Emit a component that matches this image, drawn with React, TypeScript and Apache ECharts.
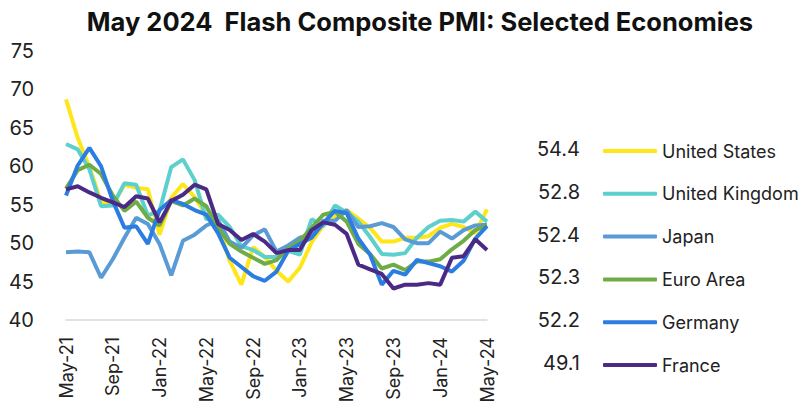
import React, { useEffect, useRef } from "react";
import * as echarts from "echarts";

const months = ["Jan", "Feb", "Mar", "Apr", "May", "Jun", "Jul", "Aug", "Sep", "Oct", "Nov", "Dec"];
const categories: string[] = [];
for (let y = 21; y <= 24; y++) {
  for (let m = 0; m < 12; m++) {
    if ((y === 21 && m < 4) || (y === 24 && m > 4)) continue;
    categories.push(`${months[m]}-${y}`);
  }
}

const seriesNames = ["United States", "United Kingdom", "Japan", "Euro Area", "Germany", "France"];
const seriesColors = ["#FFE619", "#5DD0CD", "#5B9BD5", "#6FAC46", "#2B7DE1", "#4B2A86"];

const unitedStates = [68.7, 63.7, 59.9, 55.4, 55.0, 57.6, 57.2, 57.0, 51.1, 55.9, 57.7, 56.0, 53.6, 52.3, 47.7, 44.6, 49.5, 48.2, 46.4, 45.0, 46.8, 50.1, 52.3, 53.4, 54.3, 53.2, 52.0, 50.2, 50.2, 50.7, 50.7, 50.9, 52.0, 52.5, 52.1, 51.3, 54.4];
const unitedKingdom = [62.9, 62.2, 59.6, 54.8, 54.9, 57.8, 57.6, 53.6, 54.2, 59.9, 60.9, 58.2, 53.1, 53.7, 52.1, 49.6, 49.1, 48.2, 48.2, 49.0, 48.5, 53.1, 52.2, 54.9, 54.0, 52.8, 50.8, 48.6, 48.5, 48.7, 50.7, 52.1, 52.9, 53.0, 52.8, 54.1, 52.8];
const japan = [48.8, 48.9, 48.8, 45.5, 47.9, 50.7, 53.3, 52.5, 49.9, 45.8, 50.3, 51.1, 52.3, 53.0, 50.2, 49.4, 51.0, 51.8, 48.9, 49.7, 50.7, 51.1, 52.9, 52.9, 54.3, 52.1, 52.2, 52.6, 52.1, 50.5, 50.0, 50.0, 51.5, 50.6, 51.7, 52.3, 52.4];
const euroArea = [57.1, 59.5, 60.2, 59.0, 56.2, 54.2, 55.4, 53.3, 52.3, 55.5, 54.9, 55.8, 54.8, 52.0, 49.9, 48.9, 48.1, 47.3, 47.8, 49.3, 50.3, 52.0, 53.7, 54.1, 52.8, 49.9, 48.6, 46.7, 47.2, 46.5, 47.6, 47.6, 47.9, 49.2, 50.3, 51.7, 52.3];
const germany = [56.2, 60.1, 62.4, 60.0, 55.5, 52.0, 52.2, 49.9, 54.3, 55.6, 55.1, 54.3, 53.7, 51.3, 48.1, 46.9, 45.7, 45.1, 46.3, 49.0, 49.9, 50.7, 52.6, 54.2, 53.9, 50.6, 48.5, 44.6, 46.4, 45.9, 47.8, 47.4, 47.0, 46.3, 47.7, 50.6, 52.2];
const france = [57.0, 57.4, 56.6, 55.9, 55.3, 54.7, 56.1, 55.8, 52.7, 55.5, 56.3, 57.6, 57.0, 52.5, 51.7, 50.4, 51.2, 50.2, 48.7, 49.1, 49.1, 51.7, 52.7, 52.4, 51.2, 47.2, 46.6, 46.0, 44.1, 44.6, 44.6, 44.8, 44.6, 48.1, 48.3, 50.5, 49.1];

const seriesData = [unitedStates, unitedKingdom, japan, euroArea, germany, france];

const yTicks = { min: 40, max: 75, interval: 5 };
const title = "May 2024  Flash Composite PMI: Selected Economies";

export default function App() {
  const ref = useRef<HTMLDivElement>(null);
  useEffect(() => {
    document.body.style.margin = "0";
    if (!ref.current) return;
    const chart = echarts.init(ref.current, undefined, { renderer: "svg" });
    const font = "Inter, 'Noto Sans', sans-serif";
    const rowTop = 151;
    const rowGap = 42.8;
    const rowH = 22;
    chart.setOption({
      animation: false,
      textStyle: { fontFamily: font },
      title: {
        text: title,
        left: 415,
        textAlign: "center",
        top: 3,
        textStyle: { fontSize: 25.5, fontWeight: "bold", color: "#111", fontFamily: font },
      },
      grid: { left: 66, right: 318, top: 51, bottom: 89, containLabel: false },
      xAxis: {
        type: "category",
        data: categories,
        boundaryGap: false,
        axisLine: { show: true, lineStyle: { color: "#d9d9d9", width: 1.5 } },
        axisTick: { show: false },
        axisLabel: {
          interval: 3,
          rotate: 90,
          margin: 17,
          fontSize: 18,
          color: "#222",
          fontFamily: font,
        },
        splitLine: { show: false },
      },
      yAxis: {
        type: "value",
        min: yTicks.min,
        max: yTicks.max,
        interval: yTicks.interval,
        axisLine: { show: false },
        axisTick: { show: false },
        splitLine: { show: false },
        axisLabel: { fontSize: 20, color: "#222", margin: 32, fontFamily: font },
      },
      legend: {
        orient: "vertical",
        left: 603,
        top: rowTop - rowH / 2,
        padding: 0,
        itemWidth: 54,
        itemHeight: 4,
        itemGap: rowGap - rowH,
        icon: "roundRect",
        textStyle: { fontSize: 18, color: "#222", lineHeight: rowH, height: rowH, fontFamily: font, padding: 0 },
        data: seriesNames.map((n, i) => ({ name: n, itemStyle: { color: seriesColors[i] } })),
      },
      graphic: seriesData.map((d, i) => ({
        type: "text",
        right: 805 - 580,
        top: rowTop + i * rowGap - 12,
        style: {
          text: d[d.length - 1].toFixed(1),
          fontSize: 20,
          fill: "#222",
          fontFamily: font,
        },
      })),
      series: seriesNames.map((n, i) => ({
        name: n,
        type: "line",
        data: seriesData[i],
        showSymbol: false,
        symbol: "none",
        lineStyle: { width: 4, color: seriesColors[i] },
        itemStyle: { color: seriesColors[i] },
        emphasis: { disabled: true },
      })),
    });
    return () => chart.dispose();
  }, []);
  return <div ref={ref} style={{ width: 805, height: 409 }} />;
}
